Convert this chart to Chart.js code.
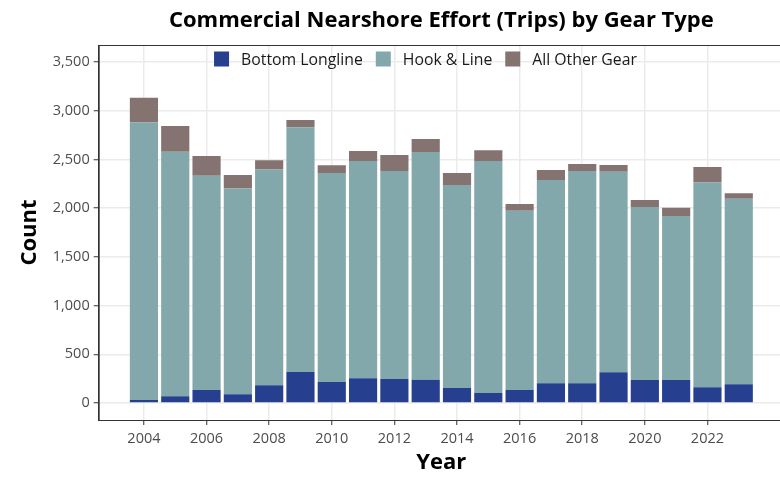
<!DOCTYPE html>
<html>
<head>
<meta charset="utf-8">
<script src="https://cdn.jsdelivr.net/npm/chart.js@4/dist/chart.umd.min.js"></script>
<style>
  html, body { margin: 0; padding: 0; background: #ffffff; overflow: hidden; }
  #wrap { width: 800px; height: 477px; position: relative; }
</style>
</head>
<body>
<div id="wrap"><canvas id="c" width="800" height="477"></canvas></div>
<script>
// ---- data ----
const chartTitle = "Commercial Nearshore Effort (Trips) by Gear Type";
const xTitle = "Year";
const yTitle = "Count";
const years = [2004, 2005, 2006, 2007, 2008, 2009, 2010, 2011, 2012, 2013,
               2014, 2015, 2016, 2017, 2018, 2019, 2020, 2021, 2022, 2023];
const seriesNames = ["Bottom Longline", "Hook & Line", "All Other Gear"];
const bottomLongline = [30, 69, 133, 89, 181, 318, 215, 253, 246, 239,
                        154, 103, 133, 202, 202, 315, 236, 236, 161, 192];
const hookAndLine    = [2851, 2510, 2200, 2114, 2217, 2512, 2146, 2231, 2135, 2337,
                        2084, 2381, 1841, 2087, 2179, 2059, 1776, 1683, 2104, 1905];
const allOtherGear   = [253, 264, 202, 137, 93, 75, 79, 103, 165, 134,
                        123, 110, 69, 103, 72, 69, 72, 86, 157, 55];
const xTickValues = [2004, 2006, 2008, 2010, 2012, 2014, 2016, 2018, 2020, 2022];
const yTickValues = [0, 500, 1000, 1500, 2000, 2500, 3000, 3500];
const seriesColors = ["#26408f", "#82a8ac", "#857371"];

const seriesValues = [bottomLongline, hookAndLine, allOtherGear];
const datasets = seriesNames.map((name, k) => ({
  label: name,
  data: years.map((yr, i) => ({ x: yr, y: seriesValues[k][i] })),
  backgroundColor: seriesColors[k],
  borderWidth: 0,
  barPercentage: 0.9,
  categoryPercentage: 1.0
}));

const FONT = "'Open Sans', 'Noto Sans', sans-serif";

const decor = {
  id: 'decor',
  afterDraw(chart) {
    const ctx = chart.ctx;
    const a = chart.chartArea;
    ctx.save();
    // panel border
    ctx.strokeStyle = '#333333';
    ctx.lineWidth = 1;
    ctx.strokeRect(a.left + 0.5, a.top + 0.5, a.right - a.left, a.bottom - a.top);
    const cx = (a.left + a.right) / 2;
    // title
    ctx.fillStyle = '#000000';
    ctx.textAlign = 'center';
    ctx.textBaseline = 'middle';
    ctx.font = "bold 22px " + FONT;
    ctx.fillText(chartTitle, cx, 21);
    // x title
    ctx.font = "bold 22px " + FONT;
    ctx.fillText(xTitle, cx, 463);
    // y title
    ctx.save();
    ctx.translate(30, (a.top + a.bottom) / 2);
    ctx.rotate(-Math.PI / 2);
    ctx.fillText(yTitle, 0, 0);
    ctx.restore();
    // legend
    ctx.font = "15.8px " + FONT;
    ctx.textBaseline = 'middle';
    ctx.textAlign = 'left';
    const box = 15, gapText = 12, gapItem = 13;
    const widths = seriesNames.map(n => ctx.measureText(n).width);
    const total = widths.reduce((s, w) => s + box + gapText + w, 0) + gapItem * (seriesNames.length - 1);
    let x = 425.5 - total / 2;
    const ly = 59;
    seriesNames.forEach((n, k) => {
      ctx.fillStyle = seriesColors[k];
      ctx.fillRect(x, ly - box / 2, box, box);
      x += box + gapText;
      ctx.fillStyle = '#1a1a1a';
      ctx.fillText(n, x, ly + 1);
      x += widths[k] + gapItem;
    });
    ctx.restore();
  }
};

new Chart(document.getElementById('c'), {
  type: 'bar',
  data: { datasets },
  options: {
    responsive: false,
    animation: false,
    devicePixelRatio: 1,
    layout: { padding: { top: 45, left: 0, right: 16, bottom: 0 } },
    plugins: {
      legend: { display: false },
      title: { display: false },
      tooltip: { enabled: false }
    },
    scales: {
      x: {
        type: 'linear',
        stacked: true,
        offset: false,
        min: 2002.555,
        max: 2024.445,
        afterFit: s => { s.height = 57; },
        afterBuildTicks: s => { s.ticks = xTickValues.map(v => ({ value: v })); },
        ticks: {
          color: '#4d4d4d',
          font: { family: FONT, size: 14.5 },
          padding: 5,
          maxRotation: 0,
          autoSkip: false,
          callback: v => String(v)
        },
        grid: { offset: false, color: '#ebebeb', lineWidth: 1.5, tickColor: '#333333', tickLength: 5, tickWidth: 1 },
        border: { color: '#333333', width: 1 }
      },
      y: {
        stacked: true,
        min: -175,
        max: 3675,
        afterFit: s => { s.width = 98.7; },
        afterBuildTicks: s => { s.ticks = yTickValues.map(v => ({ value: v })); },
        ticks: {
          color: '#4d4d4d',
          font: { family: FONT, size: 14.5 },
          padding: 4,
          autoSkip: false,
          callback: v => v.toLocaleString('en-US')
        },
        grid: { color: '#ebebeb', lineWidth: 1.5, tickColor: '#333333', tickLength: 5, tickWidth: 1 },
        border: { color: '#333333', width: 1 }
      }
    }
  },
  plugins: [decor]
});
</script>
</body>
</html>
